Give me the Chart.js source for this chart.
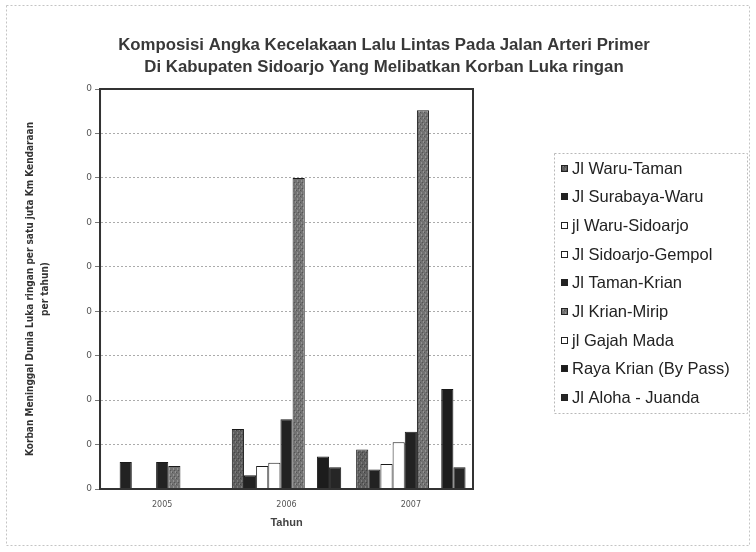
<!DOCTYPE html>
<html>
<head>
<meta charset="utf-8">
<style>
  html, body { margin: 0; padding: 0; background: #ffffff; }
  #wrap { width: 756px; height: 552px; position: relative; }
</style>
<script src="https://cdn.jsdelivr.net/npm/chart.js@4.4.1/dist/chart.umd.min.js"></script>
</head>
<body>
<div id="wrap"><canvas id="chart" width="756" height="552"></canvas></div>
<script>
// Accident figures per road and year (units of one axis step)
const years = ['2005', '2006', '2007'];
const roadNames = [
  'Jl Waru-Taman', 'Jl Surabaya-Waru', 'jl Waru-Sidoarjo', 'Jl Sidoarjo-Gempol',
  'Jl Taman-Krian', 'Jl Krian-Mirip', 'jl Gajah Mada', 'Raya Krian (By Pass)', 'Jl Aloha - Juanda'
];
const waruTaman      = [0,    1.35, 0.89];
const surabayaWaru   = [0.61, 0.31, 0.44];
const waruSidoarjo   = [0,    0.52, 0.56];
const sidoarjoGempol = [0,    0.59, 1.05];
const tamanKrian     = [0.61, 1.57, 1.29];
const krianMirip     = [0.52, 7.0,  8.52];
const gajahMada      = [0,    0,    0];
const rayaKrian      = [0,    0.73, 2.25];
const alohaJuanda    = [0,    0.49, 0.49];
const yTickLabels = ['0', '0', '0', '0', '0', '0', '0', '0', '0', '0'];

const titleLines = [
  'Komposisi Angka Kecelakaan Lalu Lintas Pada Jalan Arteri Primer',
  'Di Kabupaten Sidoarjo Yang Melibatkan Korban Luka ringan'
];
const yTitle = ['Korban Meninggal Dunia Luka ringan per satu juta Km Kendaraan', 'per tahun)'];
const xTitle = 'Tahun';

// speckled grey fill for the shaded series
function stipple(base, light, dark) {
  const p = document.createElement('canvas');
  p.width = 4; p.height = 6;
  const g = p.getContext('2d');
  g.fillStyle = base; g.fillRect(0, 0, 4, 6);
  g.fillStyle = light; g.fillRect(1, 0, 1, 2); g.fillRect(3, 3, 1, 2);
  g.fillStyle = dark; g.fillRect(0, 4, 1, 1); g.fillRect(2, 2, 1, 1);
  return g.createPattern(p, 'repeat');
}
const greyA = stipple('#5e5e5e', '#7c7c7c', '#444444');
const greyB = stipple('#727272', '#929292', '#555555');
const dark = '#222222';
const white = '#ffffff';

const seriesValues = [waruTaman, surabayaWaru, waruSidoarjo, sidoarjoGempol,
  tamanKrian, krianMirip, gajahMada, rayaKrian, alohaJuanda];
const seriesFills = [greyA, dark, white, white, dark, greyB, white, '#1c1c1c', '#262626'];

const datasets = seriesValues.map((vals, i) => ({
  label: roadNames[i],
  data: vals,
  backgroundColor: seriesFills[i],
  borderColor: '#1a1a1a',
  borderWidth: 1,
  categoryPercentage: 0.88,
  barPercentage: 1.0
}));

const FONT = "'Liberation Sans', Arial, sans-serif";

const decorations = {
  id: 'decorations',
  afterDatasetsDraw(chart) {
    const { ctx, chartArea: a } = chart;
    ctx.save();
    ctx.strokeStyle = '#333333';
    ctx.lineWidth = 2;
    ctx.strokeRect(a.left, a.top, a.right - a.left, a.bottom - a.top);
    ctx.restore();
  },
  afterDraw(chart) {
    const { ctx } = chart;
    ctx.save();
    // outer dashed frame
    ctx.setLineDash([2, 2]);
    ctx.strokeStyle = '#c4c4c4';
    ctx.lineWidth = 1;
    ctx.strokeRect(6.5, 5.5, 743, 540);
    // legend frame
    ctx.strokeStyle = '#b8b8b8';
    ctx.strokeRect(554.5, 153.5, 193, 260);
    ctx.setLineDash([]);

    // title
    ctx.fillStyle = '#383838';
    ctx.font = 'bold 16.8px ' + FONT;
    ctx.textAlign = 'center';
    ctx.textBaseline = 'middle';
    titleLines.forEach((t, i) => ctx.fillText(t, 384, 45 + i * 22));

    // legend entries
    ctx.textAlign = 'left';
    ctx.font = '16.5px ' + FONT;
    chart.data.datasets.forEach((ds, i) => {
      const y = 168 + i * 28.7;
      const my = Math.round(y - 3.5);
      ctx.fillStyle = ds.backgroundColor;
      ctx.fillRect(561, my, 7, 7);
      ctx.strokeStyle = '#222222';
      ctx.lineWidth = 1;
      ctx.strokeRect(561.5, my + 0.5, 6, 6);
      ctx.fillStyle = '#222222';
      ctx.fillText(ds.label, 572, y + 1);
    });
    ctx.restore();
  }
};

new Chart(document.getElementById('chart'), {
  type: 'bar',
  data: { labels: years, datasets },
  options: {
    responsive: false,
    animation: false,
    devicePixelRatio: 1,
    layout: { padding: { top: 89, right: 283, bottom: 18.4, left: 12 } },
    plugins: {
      legend: { display: false },
      title: { display: false },
      tooltip: { enabled: false }
    },
    scales: {
      x: {
        grid: { display: false, drawTicks: false },
        border: { display: true, color: '#333333', width: 2 },
        ticks: {
          color: '#555555',
          padding: 11.2,
          font: { family: "'DejaVu Sans', sans-serif", size: 8 }
        },
        title: {
          display: true,
          text: xTitle,
          color: '#444444',
          padding: { top: -4.6, bottom: 4 },
          font: { family: FONT, size: 11, weight: 'bold' }
        }
      },
      y: {
        min: 0,
        max: 9,
        ticks: {
          stepSize: 1,
          padding: 3,
          color: '#555555',
          font: { family: "'DejaVu Sans', sans-serif", size: 9 },
          callback: (v, i) => yTickLabels[i]
        },
        grid: {
          color: '#ababab',
          lineWidth: 1,
          tickLength: 5,
          tickColor: '#777777'
        },
        border: { display: true, color: '#333333', width: 2, dash: [2, 2] },
        title: {
          display: true,
          text: yTitle,
          color: '#333333',
          padding: { top: 10.5, bottom: 30.8 },
          font: { family: "'Liberation Sans Narrow', 'DejaVu Sans Condensed', sans-serif", size: 10, weight: 'bold', lineHeight: 1.5 }
        }
      }
    }
  },
  plugins: [decorations]
});
</script>
</body>
</html>
